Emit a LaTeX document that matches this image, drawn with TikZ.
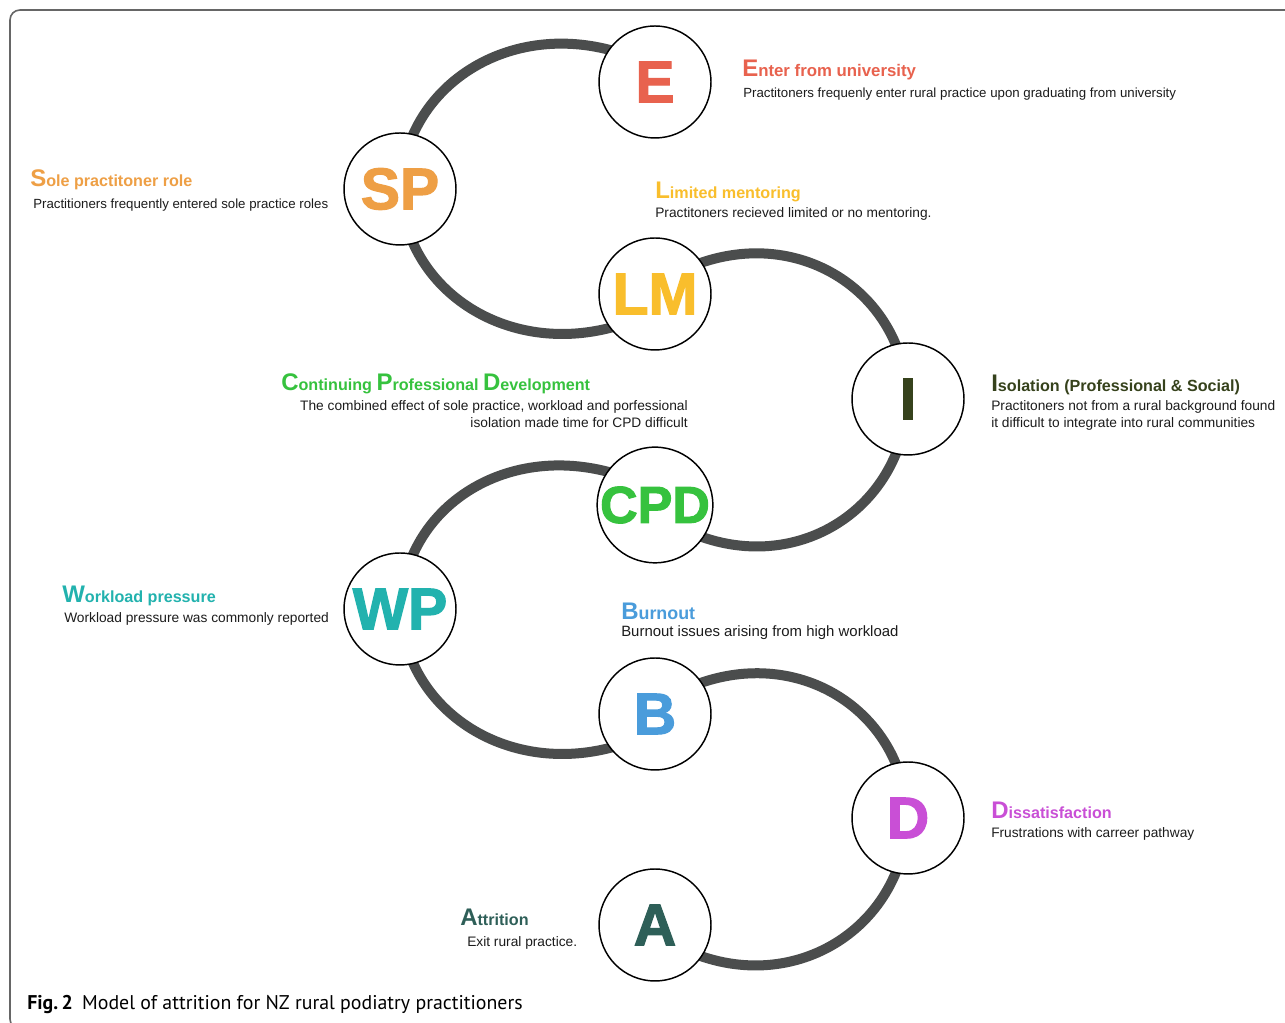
\documentclass[tikz,border=0pt]{standalone}
\usepackage{fontspec}
\setmainfont{Liberation Sans}
\newfontfamily\circfont{Liberation Sans}[UprightFont=* Bold, FakeBold=2]
\newfontfamily\capfont{PT Sans}
\usetikzlibrary{backgrounds}
\definecolor{cE}{HTML}{E8624E}
\definecolor{cSP}{HTML}{EE9F45}
\definecolor{cLM}{HTML}{F9BE2C}
\definecolor{cI}{HTML}{36421C}
\definecolor{cCPD}{HTML}{36C23E}
\definecolor{cWP}{HTML}{22B2AE}
\definecolor{cB}{HTML}{4A9CDB}
\definecolor{cD}{HTML}{C94FD6}
\definecolor{cA}{HTML}{2E5F58}
\definecolor{ringgrey}{HTML}{4B4D4D}
\definecolor{txtgrey}{HTML}{1C1C1C}
\newcommand\initl[1]{{\fontsize{18}{18}\selectfont #1}}
\tikzset{
  circ/.style={circle, draw=black, fill=white, line width=1.1pt, minimum size=84pt, inner sep=0pt,
               font=\circfont\fontsize{44}{44}\selectfont, text=#1},
  ring/.style={line width=7.5pt, draw=ringgrey, shorten >=-6pt, shorten <=-6pt},
  ttl/.style={anchor=base west, inner sep=0pt, font=\bfseries\fontsize{12.1}{14}\selectfont, text=#1},
  txt/.style={anchor=base west, inner sep=0pt, font=\fontsize{10.3}{12.75}\selectfont, text=txtgrey},
  frame/.style={draw=black!60, line width=1.2pt, rounded corners=7.5pt},
}

\begin{document}
\begin{tikzpicture}[x=0.75pt, y=0.75pt]
    \useasboundingbox (0,0) rectangle (1285,1023);
    % circles
    \node[circ=cE]   (ent)  at (655, 941) {E};
    \node[circ=cSP]  (sole) at (400, 834) {SP};
    \node[circ=cLM]  (ment) at (655, 729) {LM};
    \node[circ=cI]   (iso)  at (908, 624) {I};
    \node[circ=cCPD, font=\circfont\fontsize{39}{39}\selectfont] (cpd) at (655, 518) {CPD};
    \node[circ=cWP]  (work) at (400, 414) {WP};
    \node[circ=cB]   (burn) at (655, 309) {B};
    \node[circ=cD]   (diss) at (908, 205) {D};
    \node[circ=cA]   (attr) at (655, 98)  {A};
    % titles and notes
    \node[ttl=cE, font=\bfseries\fontsize{12.6}{14}\selectfont] (entT) at (742, 946) {\initl{E}nter from university};
    \node[txt, font=\fontsize{9.95}{12}\selectfont] (entD) at (743, 925) {Practitoners frequenly enter rural practice upon graduating from university};
    \node[ttl=cSP]  (soleT) at (30, 836)  {\initl{S}ole practitoner role};
    \node[txt, font=\fontsize{9.95}{12}\selectfont] (soleD) at (33, 814) {Practitioners frequently entered sole practice roles};
    \node[ttl=cLM]  (mentT) at (655, 824) {\initl{L}imited mentoring};
    \node[txt]      (mentD) at (655, 805) {Practitoners recieved limited or no mentoring.};
    \node[ttl=cCPD] (cpdT)  at (281, 632) {\initl{C}ontinuing \initl{P}rofessional \initl{D}evelopment};
    \node[txt, anchor=base east, align=right] (cpdD) at (688, 595)
        {The combined effect of sole practice, workload and porfessional\\isolation made time for CPD difficult};
    \node[ttl=cI]   (isoT)  at (991, 631) {\initl{I}solation (Professional \& Social)};
    \node[txt, align=left] (isoD) at (991, 595)
        {Practitoners not from a rural background found\\it difficult to integrate into rural communities};
    \node[ttl=cWP]  (workT) at (62, 420)  {\initl{W}orkload pressure};
    \node[txt]      (workD) at (64, 400)  {Workload pressure was commonly reported};
    \node[ttl=cB, font=\bfseries\fontsize{13.4}{14}\selectfont] (burnT) at (621, 403) {\initl{B}urnout};
    \node[txt, font=\fontsize{11.2}{13}\selectfont] (burnD) at (621, 386) {Burnout issues arising from high workload};
    \node[ttl=cD]   (dissT) at (991, 204) {\initl{D}issatisfaction};
    \node[txt]      (dissD) at (991, 185) {Frustrations with carreer pathway};
    \node[ttl=cA]   (attrT) at (460, 97)  {\initl{A}ttrition};
    \node[txt]      (attrD) at (467, 76)  {Exit rural practice.};
    % caption
    \node[anchor=base west, inner sep=0pt, font=\capfont\fontsize{14.9}{17}\selectfont] (cap) at (27, 13)
        {\textbf{Fig.\,2}\hspace{7pt}Model of attrition for NZ rural podiatry practitioners};

    \begin{scope}[on background layer]
      \fill[white] (0,0) rectangle (1285,1023);
      \draw[frame] (10,-6) rectangle (1300,1013);
      \draw[ring] (sole.center) .. controls +(0,99.6) and +(-103.3,30.5) .. (ent.145);
      \draw[ring] (sole.center) .. controls +(0,-99.6) and +(-103.3,-30.5) .. (ment.217);
      \draw[ring] (ment.34) .. controls +(99.1,38.2) and +(0,104.4) .. (iso.center);
      \draw[ring] (iso.center) .. controls +(0,-104.4) and +(99.1,-38.2) .. (cpd.326);
      \draw[ring] (work.center) .. controls +(0,99.6) and +(-103.3,30.5) .. (cpd.145);
      \draw[ring] (work.center) .. controls +(0,-99.6) and +(-103.3,-30.5) .. (burn.217);
      \draw[ring] (burn.34) .. controls +(99.1,38.2) and +(0,104.4) .. (diss.center);
      \draw[ring] (diss.center) .. controls +(0,-104.4) and +(99.1,-38.2) .. (attr.326);
    \end{scope}
\end{tikzpicture}
\end{document}
